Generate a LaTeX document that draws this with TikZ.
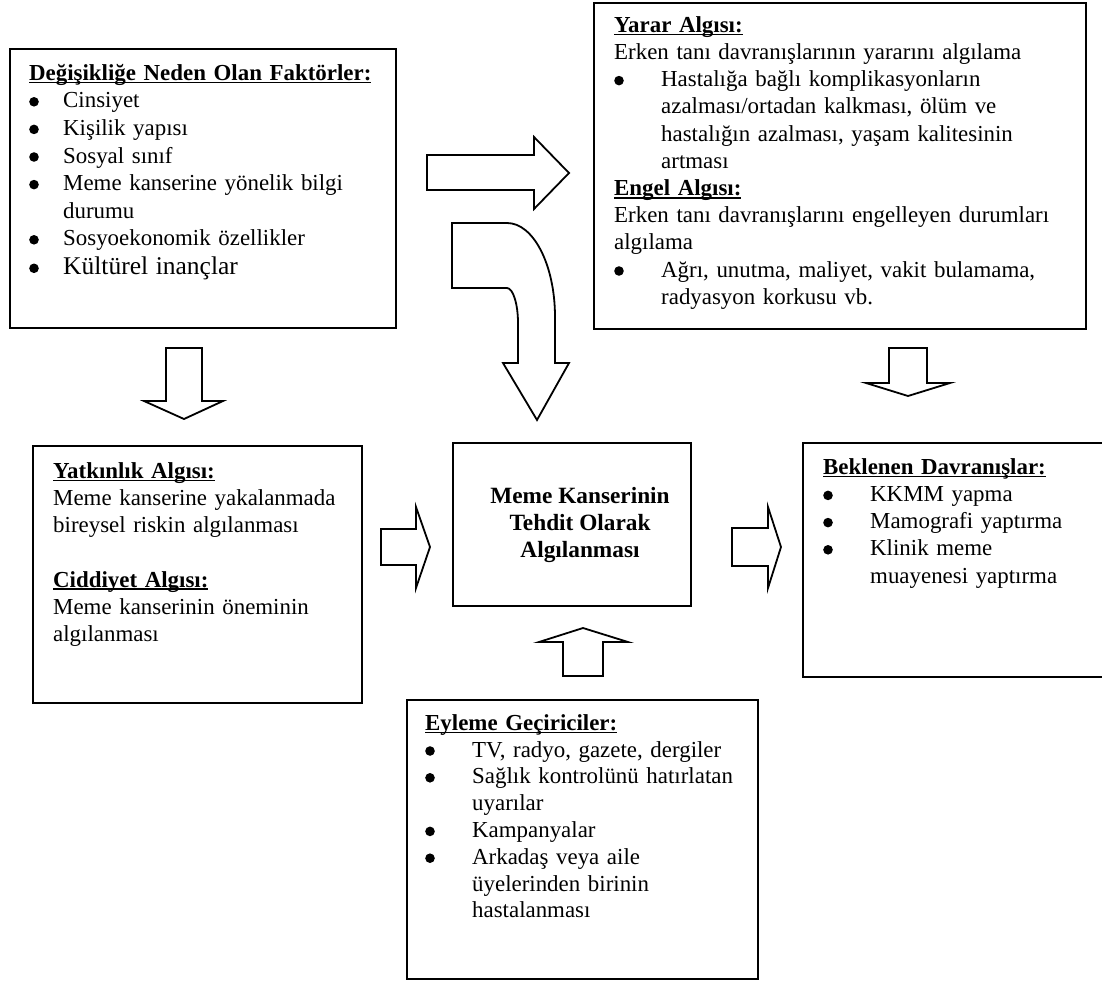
\documentclass[tikz,border=0pt]{standalone}
\usepackage{fontspec}
\setmainfont{Liberation Serif}
\newcommand\ultitle[1]{\setbox0\hbox{\bfseries #1}\rlap{\rule[-3.2pt]{\wd0}{1.8pt}}\box0}
\newcommand\bdot{\tikz[baseline=0pt]\fill[black] (0pt,6pt) circle[radius=4.8pt];}
\newcommand\bitem[2]{\par\noindent\hangindent=#1\hangafter=1\makebox[#1][l]{\bdot}#2}
\newcommand\plainline[1]{\par\noindent #1}
\newcommand\firststrut{\rule{0pt}{20pt}}
\tikzset{
  box/.style={draw, line width=2pt, anchor=north west, inner sep=0pt, fill=white},
  txt/.style={anchor=north west, inner sep=0pt, text width=480pt, font=\fontsize{22.9}{27.2}\selectfont},
  blockarrow/.style={draw, line width=1.8pt, fill=white, line join=miter}
}
\begin{document}
\begin{tikzpicture}[x=1pt,y=-1pt]
\useasboundingbox (0,0) rectangle (1102,980);
\fill[white] (0,0) rectangle (1102,980);
\clip (0,0) rectangle (1102,980);

% boxes
\node[box, minimum width=386pt, minimum height=279pt] (fac) at (9,48) {};
\node[box, minimum width=492pt, minimum height=326pt] (yarar) at (593,2) {};
\node[box, minimum width=329pt, minimum height=257pt] (yat) at (32,445) {};
\node[box, minimum width=238pt, minimum height=163pt] (tehdit) at (452,442) {};
\node[box, minimum width=308pt, minimum height=234pt] (bek) at (802,442) {};
\node[box, minimum width=351pt, minimum height=279pt] (eyl) at (406,699) {};

% texts
\node[txt, font=\fontsize{22.9}{27.6}\selectfont] (factxt) at ([shift={(20,12)}]fac.north west) {\raggedright\parindent=0pt
\firststrut\ultitle{Değişikliğe Neden Olan Faktörler:}
\bitem{34pt}{Cinsiyet}
\bitem{34pt}{Kişilik yapısı}
\bitem{34pt}{Sosyal sınıf}
\bitem{34pt}{Meme kanserine yönelik bilgi\newline durumu}
\bitem{34pt}{Sosyoekonomik özellikler}\par
{\fontsize{25.5}{28.5}\selectfont\bitem{34pt}{Kültürel inançlar}\par}};

\node[txt] (yarartxt) at ([shift={(21,10)}]yarar.north west) {\raggedright\parindent=0pt
\firststrut\ultitle{Yarar Algısı:}
\plainline{Erken tanı davranışlarının yararını algılama}
\bitem{47pt}{Hastalığa bağlı komplikasyonların\newline azalması/ortadan kalkması, ölüm ve\newline hastalığın azalması, yaşam kalitesinin\newline artması}
\par\noindent\ultitle{Engel Algısı:}
\plainline{Erken tanı davranışlarını engelleyen durumları\newline algılama}
\bitem{47pt}{Ağrı, unutma, maliyet, vakit bulamama,\newline radyasyon korkusu vb.}\par};

\node[txt] (yattxt) at ([shift={(21,13)}]yat.north west) {\raggedright\parindent=0pt
\firststrut\ultitle{Yatkınlık Algısı:}
\plainline{Meme kanserine yakalanmada\newline bireysel riskin algılanması}
\plainline{\strut}
\plainline{\ultitle{Ciddiyet Algısı:}}
\plainline{Meme kanserinin öneminin\newline algılanması}\par};

\node[anchor=north, inner sep=0pt, align=center, font=\fontsize{23.3}{27}\selectfont\bfseries] (tehdittxt) at ([shift={(8,41)}]tehdit.north)
{\firststrut Meme Kanserinin\\Tehdit Olarak\\Algılanması};

\node[txt] (bektxt) at ([shift={(21,12)}]bek.north west) {\raggedright\parindent=0pt
\firststrut\ultitle{Beklenen Davranışlar:}
\bitem{47pt}{KKMM yapma}
\bitem{47pt}{Mamografi yaptırma}
\bitem{47pt}{Klinik meme\newline muayenesi yaptırma}\par};

\node[txt, font=\fontsize{22.9}{26.8}\selectfont] (eyltxt) at ([shift={(19,11)}]eyl.north west) {\raggedright\parindent=0pt
\firststrut\ultitle{Eyleme Geçiriciler:}
\bitem{47pt}{TV, radyo, gazete, dergiler}
\bitem{47pt}{Sağlık kontrolünü hatırlatan\newline uyarılar}
\bitem{47pt}{Kampanyalar}
\bitem{47pt}{Arkadaş veya aile\newline üyelerinden birinin\newline hastalanması}\par};

% block arrows
% factors -> yarar (right)
\draw[blockarrow] (427,155) -- (534,155) -- (534,137) -- (569,173) -- (534,209) -- (534,190) -- (427,190) -- cycle;
% curved arrow factors -> tehdit
\draw[blockarrow] (452,223) -- (507,223) .. controls (533.5,223) and (555,265) .. (555,317) -- (555,363) -- (569,363) -- (537,420) -- (503,363) -- (518,363) -- (518,323) .. controls (518,304) and (513,288) .. (507,288) -- (452,288) -- cycle;
% factors -> yatkinlik (down)
\draw[blockarrow] (166,348) -- (202,348) -- (202,401) -- (223,401) -- (184,419) -- (144,401) -- (166,401) -- cycle;
% yarar -> beklenen (down)
\draw[blockarrow] (889,348) -- (927,348) -- (927,383) -- (950,383) -- (908,396) -- (866,383) -- (889,383) -- cycle;
% yatkinlik -> tehdit (right)
\draw[blockarrow] (381,529) -- (416,529) -- (416,507) -- (430,547) -- (416,588) -- (416,565) -- (381,565) -- cycle;
% tehdit -> beklenen (right)
\draw[blockarrow] (732,528) -- (768,528) -- (768,507) -- (781,547) -- (768,588) -- (768,566) -- (732,566) -- cycle;
% eyleme -> tehdit (up)
\draw[blockarrow] (563,676) -- (603,676) -- (603,642) -- (628,642) -- (583,628) -- (539,642) -- (563,642) -- cycle;
\end{tikzpicture}
\end{document}
